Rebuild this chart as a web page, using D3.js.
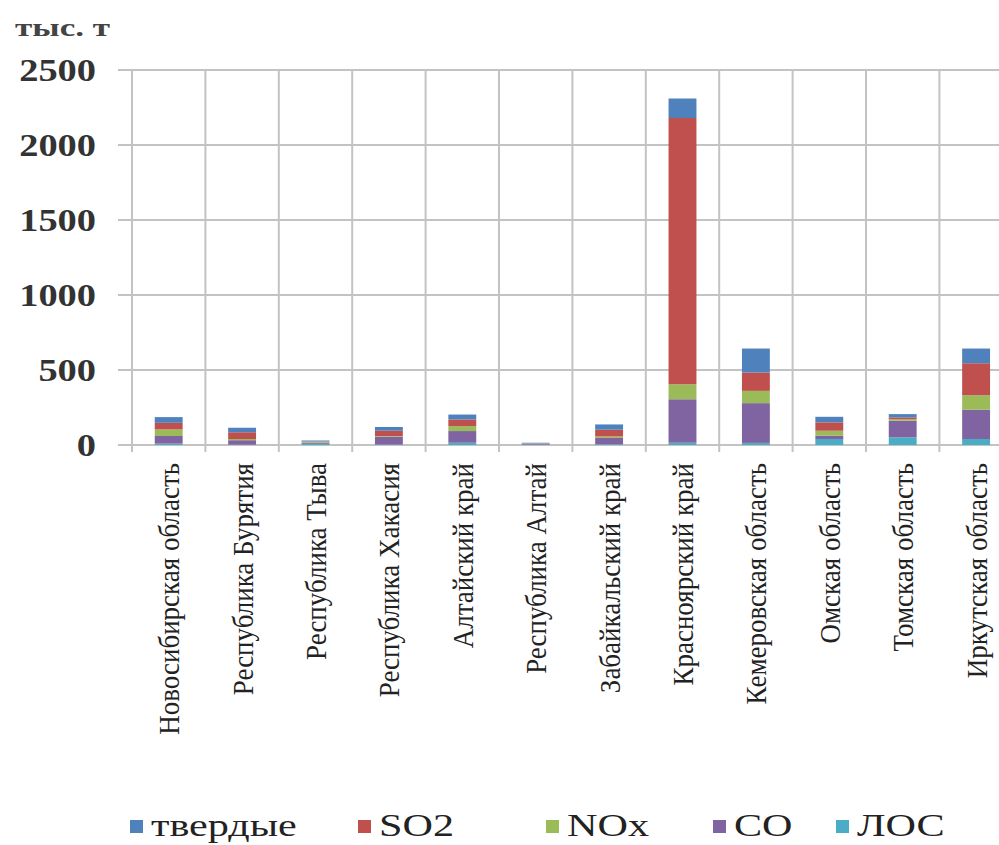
<!DOCTYPE html>
<html>
<head>
<meta charset="utf-8">
<script src="https://cdn.jsdelivr.net/npm/d3@7"></script>
<style>
  body { margin: 0; background: #fff; }
  text { font-family: "Times New Roman", "Liberation Serif", Times, serif; fill: #222; }
</style>
</head>
<body>
<svg id="chart" width="999" height="845"></svg>
<script>
// regions
const categories = [
    "Новосибирская область", "Республика Бурятия", "Республика Тыва",
    "Республика Хакасия", "Алтайский край", "Республика Алтай",
    "Забайкальский край", "Красноярский край", "Кемеровская область",
    "Омская область", "Томская область", "Иркутская область"
];
// values, тыс. т
const tverdye = [38, 30, 6, 25, 33, 4, 35, 130, 160, 37, 22, 98];
const so2     = [44, 45, 2, 35, 44, 1, 45, 1775, 122, 56, 12, 213];
const nox     = [44, 8, 6, 5, 33, 2, 10, 100, 82, 33, 10, 97];
const co      = [51, 30, 8, 52, 78, 5, 42, 290, 265, 22, 111, 195];
const los     = [9, 2, 8, 3, 15, 3, 5, 15, 14, 40, 51, 40];
const yTicks  = [0, 500, 1000, 1500, 2000, 2500];

const series = [
    { key: "tverdye", label: "твердые", color: "#4F81BD", values: tverdye },
    { key: "so2", label: "SO2", color: "#C0504D", values: so2 },
    { key: "nox", label: "NOx", color: "#9BBB59", values: nox },
    { key: "co", label: "CO", color: "#8064A2", values: co },
    { key: "los", label: "ЛОС", color: "#4BACC6", values: los }
];

const svg = d3.select("#chart");
const plotLeft = 132, plotTop = 70, plotBottom = 445, plotRight = 1012.8;
const gridColor = "#c3c3c3";

const rows = categories.map((c, i) => {
    const r = { name: c };
    series.forEach(s => r[s.key] = s.values[i]);
    return r;
});

const x = d3.scaleBand().domain(categories).range([plotLeft, plotRight])
    .paddingInner(0.62).paddingOuter(0.31);
const y = d3.scaleLinear().domain([0, 2500]).range([plotBottom, plotTop]);
const step = (plotRight - plotLeft) / categories.length;

// horizontal gridlines
svg.append("g").selectAll("line.h")
    .data(yTicks).enter().append("line")
    .attr("x1", plotLeft - 14).attr("x2", 999)
    .attr("y1", d => y(d)).attr("y2", d => y(d))
    .attr("stroke", gridColor).attr("stroke-width", 2);

// vertical gridlines between categories
svg.append("g").selectAll("line.v")
    .data(d3.range(categories.length + 1)).enter().append("line")
    .attr("x1", i => plotLeft + i * step).attr("x2", i => plotLeft + i * step)
    .attr("y1", plotTop).attr("y2", plotBottom + 7)
    .attr("stroke", gridColor).attr("stroke-width", 2);

// stacked bars, bottom to top: ЛОС, CO, NOx, SO2, твердые
const stackKeys = ["los", "co", "nox", "so2", "tverdye"];
const stacked = d3.stack().keys(stackKeys)(rows);
const colorOf = k => series.find(s => s.key === k).color;

svg.append("g").selectAll("g")
    .data(stacked).enter().append("g")
    .attr("fill", d => colorOf(d.key))
    .selectAll("rect")
    .data(d => d).enter().append("rect")
    .attr("x", d => x(d.data.name))
    .attr("width", x.bandwidth())
    .attr("y", d => y(d[1]))
    .attr("height", d => y(d[0]) - y(d[1]));

// y axis labels
svg.append("g").selectAll("text")
    .data(yTicks).enter().append("text")
    .attr("transform", d => `translate(96,${y(d)}) scale(1.2,1)`)
    .attr("text-anchor", "end")
    .attr("dy", "0.35em")
    .style("font-size", "32px")
    .style("font-weight", "bold")
    .style("fill", "#333")
    .text(d => d);

// unit label
svg.append("text")
    .attr("transform", "translate(15,36) scale(1.35,1)")
    .style("font-size", "26px")
    .style("font-weight", "bold")
    .style("fill", "#444")
    .text("тыс. т");

// category labels (rotated)
svg.append("g").selectAll("text")
    .data(categories).enter().append("text")
    .attr("transform", d => `translate(${x(d) + x.bandwidth() / 2},463) rotate(-90) scale(1,1.12)`)
    .attr("text-anchor", "end")
    .attr("dy", "0.35em")
    .style("font-size", "27px")
    .text(d => d);

// legend
const legendX = [130, 358, 546, 713, 836];
const legend = svg.append("g").selectAll("g")
    .data(series).enter().append("g")
    .attr("transform", (d, i) => `translate(${legendX[i]},826)`);
legend.append("rect")
    .attr("x", 0).attr("y", -6).attr("width", 13).attr("height", 13)
    .attr("fill", d => d.color);
legend.append("text")
    .attr("transform", "translate(21,0) scale(1.36,1)")
    .attr("dy", "0.33em")
    .style("font-size", "31px")
    .text(d => d.label);
</script>
</body>
</html>
